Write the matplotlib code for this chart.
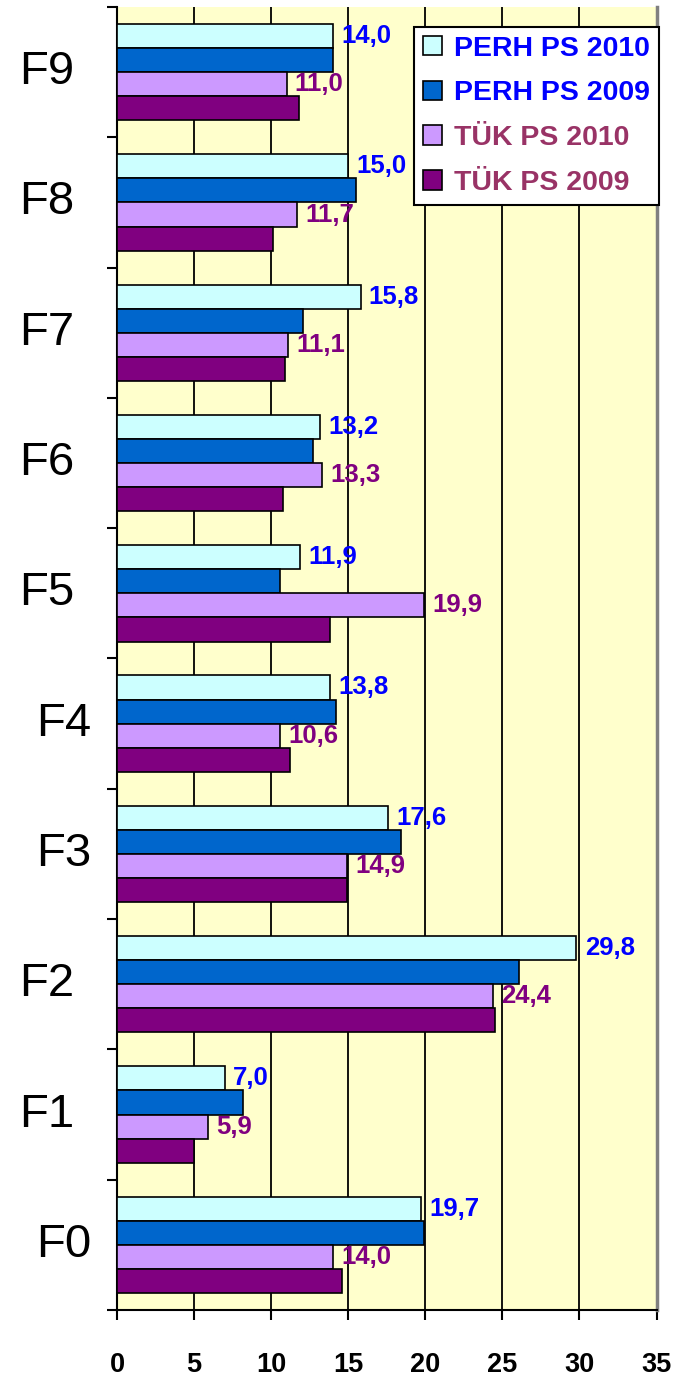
import numpy as np
import matplotlib
matplotlib.use('Agg')
import matplotlib.pyplot as plt
from matplotlib.transforms import ScaledTranslation

plt.rcParams['font.family'] = ['Liberation Sans', 'DejaVu Sans']

# categories, bottom to top
cats = ['F0', 'F1', 'F2', 'F3', 'F4', 'F5', 'F6', 'F7', 'F8', 'F9']
series = ['PERH PS 2010', 'PERH PS 2009', 'TÜK PS 2010', 'TÜK PS 2009']
perh_2010 = [19.7, 7.0, 29.8, 17.6, 13.8, 11.9, 13.2, 15.8, 15.0, 14.0]
perh_2009 = [19.9, 8.2, 26.1, 18.4, 14.2, 10.6, 12.7, 12.1, 15.5, 14.0]
tuk_2010 = [14.0, 5.9, 24.4, 14.9, 10.6, 19.9, 13.3, 11.1, 11.7, 11.0]
tuk_2009 = [14.6, 5.0, 24.5, 14.9, 11.2, 13.8, 10.8, 10.9, 10.1, 11.8]
xticks = [0, 5, 10, 15, 20, 25, 30, 35]

colors = ['#CCFFFF', '#0066CC', '#CC99FF', '#800080']
legend_text_colors = ['#0000FF', '#0000FF', '#993366', '#993366']
label_colors = {0: '#0000FF', 2: '#800080'}  # only the 2010 series carry value labels

fig = plt.figure(figsize=(6.73, 13.76), dpi=100)
ax = fig.add_axes([0.1738, 0.048, 0.8017, 0.9469])
ax.set_facecolor('#FFFFCC')

y = np.arange(len(cats))
h = 0.185
offsets = [1.5 * h, 0.5 * h, -0.5 * h, -1.5 * h]
data = [perh_2010, perh_2009, tuk_2010, tuk_2009]

for i, vals in enumerate(data):
    b = ax.barh(y + offsets[i], vals, height=h, color=colors[i], edgecolor='black',
                linewidth=1.2, label=series[i], zorder=3)
    if i in label_colors:
        for rect, v in zip(b, vals):
            ax.annotate(f'{v:.1f}'.replace('.', ','),
                        (rect.get_width(), rect.get_y() + rect.get_height() / 2),
                        xytext=(6, 0), textcoords='offset points', ha='left', va='center',
                        fontsize=18.5, fontweight='bold', color=label_colors[i], zorder=4)

ax.set_xlim(0, 35)
ax.set_ylim(-0.5, len(cats) - 0.5)
ax.set_xticks(xticks)
ax.set_xticklabels([str(t) for t in xticks], fontsize=19.5, fontweight='bold')
ax.tick_params(axis='x', direction='out', length=7, width=1.5, pad=23)

# category boundaries as major ticks, names on minor ticks
ax.set_yticks(np.arange(-0.5, len(cats), 1.0))
ax.set_yticklabels([])
ax.tick_params(axis='y', which='major', direction='out', length=7, width=1.5)
ax.set_yticks(y, cats, minor=True)
ax.tick_params(axis='y', which='minor', length=0, pad=31, labelsize=34)
for lab in ax.get_yticklabels(minor=True):
    lab.set_verticalalignment('center')
    if lab.get_text() in ('F0', 'F3', 'F4'):
        lab.set_transform(lab.get_transform() + ScaledTranslation(17 / 100, 0, fig.dpi_scale_trans))

ax.grid(axis='x', color='black', linewidth=1.3, zorder=1)
ax.set_axisbelow(True)
ax.spines['top'].set_visible(False)
ax.spines['left'].set_linewidth(1.5)
ax.spines['bottom'].set_linewidth(1.5)
ax.spines['right'].set_color('#808080')
ax.spines['right'].set_linewidth(2.5)

leg = ax.legend(loc='upper right', bbox_to_anchor=(1.004, 0.985),
                prop={'weight': 'bold', 'size': 20.5}, frameon=True, fancybox=False,
                framealpha=1, edgecolor='black', handlelength=0.68, handleheight=0.68,
                handletextpad=0.4, labelspacing=0.66, borderpad=0.32, borderaxespad=0)
leg.get_frame().set_linewidth(1.5)
for txt, c in zip(leg.get_texts(), legend_text_colors):
    txt.set_color(c)

fig.savefig('out.png', dpi=100)
